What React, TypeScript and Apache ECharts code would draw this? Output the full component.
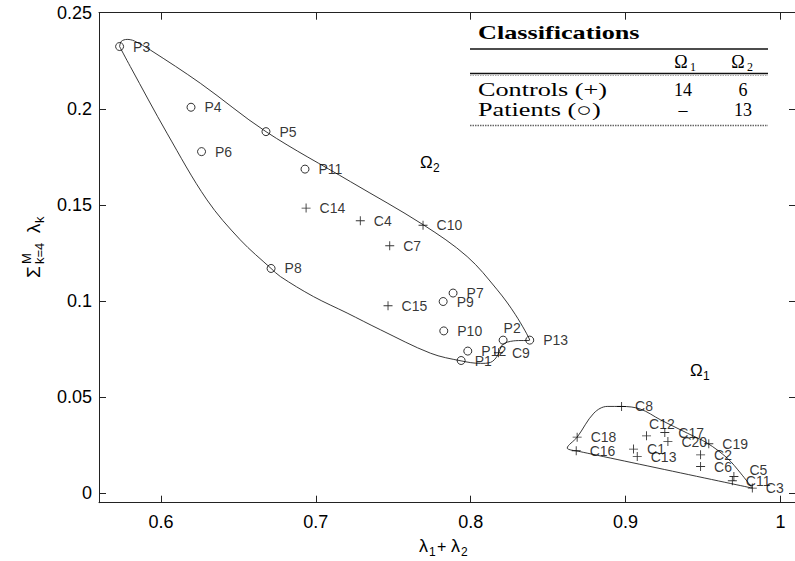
import React, { useEffect, useRef } from "react";
import * as echarts from "echarts";

// ---------- data ----------
const controlNames = ["C1","C2","C3","C4","C5","C6","C7","C8","C9","C10","C11","C12","C13","C14","C15","C16","C17","C18","C19","C20"];
const controlX = [0.9051,0.9484,0.9818,0.7287,0.9699,0.9484,0.7477,0.8974,0.8179,0.7692,0.9689,0.9135,0.9075,0.6937,0.7466,0.8681,0.9253,0.8687,0.9537,0.9273];
const controlY = [0.0229,0.0199,0.0026,0.1417,0.0086,0.0138,0.1287,0.0451,0.0730,0.1394,0.0064,0.0298,0.0190,0.1483,0.0975,0.0220,0.0315,0.0291,0.0257,0.0268];

const patientNames = ["P1","P2","P3","P4","P5","P6","P7","P8","P9","P10","P11","P12","P13"];
const patientX = [0.7938,0.8209,0.5733,0.6194,0.6678,0.6262,0.7886,0.6711,0.7822,0.7826,0.6930,0.7981,0.8381];
const patientY = [0.0690,0.0796,0.2324,0.2008,0.1881,0.1777,0.1041,0.1169,0.0997,0.0844,0.1686,0.0739,0.0796];

// class boundaries (closed curves)
const omega1X = [0.8681,0.9818,0.9742,0.9656,0.9527,0.9398,0.9226,0.9096,0.8974,0.8881,0.8795,0.8687,0.8623,0.8681];
const omega1Y = [0.0220,0.0026,0.0104,0.0182,0.0260,0.0312,0.0381,0.0437,0.0451,0.0451,0.0416,0.0291,0.0234,0.0220];
const omega2X = [0.5733,0.5744,0.5782,0.5828,0.5931,0.6254,0.6678,0.7223,0.7694,0.7977,0.8171,0.8289,0.8381,0.8276,0.8205,0.8172,0.8127,0.8063,0.7938,0.7740,0.7417,0.7202,0.6984,0.6771,0.6711,0.6512,0.6297,0.6039,0.5802,0.5733];
const omega2Y = [0.2324,0.2351,0.2361,0.2353,0.2306,0.2133,0.1881,0.1621,0.1396,0.1231,0.1058,0.0928,0.0796,0.0792,0.0772,0.0714,0.0680,0.0675,0.0688,0.0728,0.0850,0.0937,0.1023,0.1127,0.1169,0.1318,0.1526,0.1873,0.2220,0.2324];

const xTicks = [0.6, 0.7, 0.8, 0.9, 1];
const yTicks = [0, 0.05, 0.1, 0.15, 0.2, 0.25];

const tableTitle = "Classifications";
const tableRowNames = ["Controls (+)", "Patients (\u25CB)"];
const tableOmega1 = ["14", "\u2013"];
const tableOmega2 = ["6", "13"];

// ---------- layout / style ----------
const SANS = '"Liberation Sans", Arial, Helvetica, sans-serif';
const SERIF = '"Liberation Serif", "DejaVu Serif", serif';
const labelNudge: Record<string, number[]> = { P2: [-13, -12], C12: [-11, -12], C5: [2, -7] };
const PLUS = "path://M4.5,0H5.5V4.5H10V5.5H5.5V10H4.5V5.5H0V4.5H4.5Z";

function txt(x: number, y: number, text: string, size: number, extra: any = {}) {
  return {
    type: "text",
    x,
    y,
    scaleX: extra.scaleX || 1,
    silent: true,
    style: {
      text,
      fill: "#000",
      font: `${extra.weight || "normal"} ${size}px ${extra.family || SANS}`,
      align: extra.align || "left",
      verticalAlign: "middle",
    },
  };
}

function hline(x1: number, x2: number, y: number, w: number, color: string, dash?: number[]) {
  return {
    type: "line",
    silent: true,
    shape: { x1, y1: y, x2, y2: y },
    style: { stroke: color, lineWidth: w, lineDash: dash || null },
  };
}

export default function App() {
  const ref = useRef<HTMLDivElement>(null);

  useEffect(() => {
    if (!ref.current) return;
    const chart = echarts.init(ref.current, undefined, { renderer: "svg" });

    const mkItems = (names: string[], xs: number[], ys: number[]) =>
      names.map((n, i) => {
        const item: any = { name: n, value: [xs[i], ys[i]] };
        if (labelNudge[n]) item.label = { offset: labelNudge[n] };
        return item;
      });

    const axisLine = { show: true, onZero: false, lineStyle: { color: "#222", width: 1 } };
    const tickStyle = { color: "#222", width: 1 };

    const labelCfg = {
      show: true,
      position: "right",
      distance: 9,
      formatter: "{b}",
      fontSize: 14,
      fontFamily: SANS,
      color: "#000",
    };

    const tableLeft = 478;
    const tableRight = 768;
    const col1 = 686;
    const col2 = 743;
    const SX = 1.38;

    const graphic: any[] = [
      // region labels
      txt(420, 162, "\u03A9", 17),
      txt(433, 168, "2", 12),
      txt(690, 370, "\u03A9", 17),
      txt(703, 376, "1", 12),
      // x axis name
      txt(419, 546, "\u03BB", 18),
      txt(429, 552, "1", 12),
      txt(437, 546, "+", 16),
      txt(451, 546, "\u03BB", 18),
      txt(461, 552, "2", 12),
      // y axis name (rotated)
      {
        type: "group",
        x: 33,
        y: 238,
        rotation: Math.PI / 2,
        children: [
          txt(-40, 0, "\u03A3", 19),
          txt(-26, -7, "M", 13),
          txt(-26, 6, "k=4", 13),
          txt(5, 0, "\u03BB", 19),
          txt(15, 6, "k", 13),
        ],
      },
      // table
      txt(tableLeft, 33, tableTitle, 19, { weight: "bold", family: SERIF, scaleX: SX }),
      hline(tableLeft - 8, tableRight, 49, 1.6, "#111"),
      txt(col1 - 5, 62, "\u03A9", 18, { family: SERIF, align: "center" }),
      txt(col1 + 4, 67, "1", 12, { family: SERIF }),
      txt(col2 - 5, 62, "\u03A9", 18, { family: SERIF, align: "center" }),
      txt(col2 + 4, 67, "2", 12, { family: SERIF }),
      hline(tableLeft - 8, tableRight, 73.5, 1.3, "#111"),
      hline(tableLeft - 8, tableRight, 75.5, 1, "#aaa", [1.5, 1]),
      hline(tableLeft - 8, tableRight, 125.5, 1.5, "#666", [1.5, 1]),
    ];
    tableRowNames.forEach((r, i) => {
      const y = 90 + i * 20;
      graphic.push(txt(tableLeft, y, r, 19, { family: SERIF, scaleX: SX }));
      graphic.push(txt(col1 - 3, y, tableOmega1[i], 18, { family: SERIF, align: "center" }));
      graphic.push(txt(col2, y, tableOmega2[i], 18, { family: SERIF, align: "center" }));
    });

    chart.setOption({
      animation: false,
      backgroundColor: "#fff",
      grid: { left: 99, right: -1, top: 12.7, bottom: 58.3, outerBoundsMode: "none", containLabel: false },
      xAxis: [
        {
          type: "value",
          min: 0.56,
          max: 1.01,
          position: "bottom",
          axisLine,
          axisTick: { show: true, inside: true, length: 7, customValues: xTicks, lineStyle: tickStyle },
          axisLabel: {
            customValues: xTicks,
            formatter: (v: number) => String(v),
            fontSize: 18,
            fontFamily: SANS,
            color: "#000",
            margin: 10,
          },
          splitLine: { show: false },
        },
        {
          type: "value",
          min: 0.56,
          max: 1.01,
          position: "top",
          axisLine,
          axisTick: { show: true, inside: true, length: 7, customValues: xTicks, lineStyle: tickStyle },
          axisLabel: { show: false },
          splitLine: { show: false },
        },
      ],
      yAxis: [
        {
          type: "value",
          min: -0.005,
          max: 0.25,
          position: "left",
          axisLine,
          axisTick: { show: true, inside: true, length: 7, customValues: yTicks, lineStyle: tickStyle },
          axisLabel: {
            customValues: yTicks,
            formatter: (v: number) => String(v),
            fontSize: 18,
            fontFamily: SANS,
            color: "#000",
            margin: 7,
          },
          splitLine: { show: false },
        },
        {
          type: "value",
          min: -0.005,
          max: 0.25,
          position: "right",
          axisLine,
          axisTick: { show: true, inside: true, length: 7, customValues: yTicks, lineStyle: tickStyle },
          axisLabel: { show: false },
          splitLine: { show: false },
        },
      ],
      series: [
        {
          type: "line",
          name: "Omega2",
          data: omega2X.map((x, i) => [x, omega2Y[i]]),
          smooth: 0.35,
          symbol: "none",
          lineStyle: { color: "#222", width: 0.9 },
          z: 1,
          silent: true,
        },
        {
          type: "line",
          name: "Omega1",
          data: omega1X.map((x, i) => [x, omega1Y[i]]),
          smooth: 0.35,
          symbol: "none",
          lineStyle: { color: "#222", width: 0.9 },
          z: 1,
          silent: true,
        },
        {
          type: "scatter",
          name: "Controls",
          data: mkItems(controlNames, controlX, controlY),
          symbol: PLUS,
          symbolSize: 9,
          itemStyle: { color: "#000" },
          label: labelCfg,
          z: 3,
        },
        {
          type: "scatter",
          name: "Patients",
          data: mkItems(patientNames, patientX, patientY),
          symbol: "circle",
          symbolSize: 8,
          itemStyle: { color: "rgba(0,0,0,0)", borderColor: "#000", borderWidth: 1 },
          label: labelCfg,
          z: 3,
        },
      ],
      graphic,
    });

    return () => chart.dispose();
  }, []);

  return (
    <div
      ref={ref}
      style={{ position: "fixed", left: 0, top: 0, width: 795, height: 561, background: "#fff" }}
    />
  );
}
